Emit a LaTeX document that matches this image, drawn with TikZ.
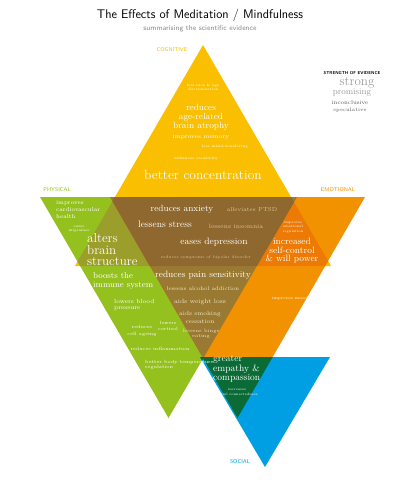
\documentclass[tikz,border=0pt]{standalone}
\usepackage{fontspec}
\newcommand\fsz[2]{\fontsize{#1pt}{#2pt}\selectfont}
\definecolor{cog}{HTML}{F9BF00}
\definecolor{phy}{HTML}{95C11F}
\definecolor{emo}{HTML}{F39200}
\definecolor{soc}{HTML}{009FE3}
\definecolor{cogphy}{HTML}{9C9E2C}
\definecolor{cogemo}{HTML}{EC7A05}
\definecolor{phyemo}{HTML}{9A7A32}
\definecolor{allthree}{HTML}{8E682E}
\definecolor{socemo}{HTML}{0B6B36}
\definecolor{beige}{HTML}{DCC49A}
\definecolor{lbeige}{HTML}{F1E6CC}
\definecolor{subgray}{HTML}{8A8A8A}
\definecolor{leggray}{HTML}{9A9A9A}
\definecolor{legdark}{HTML}{555555}
\begin{document}
\begin{tikzpicture}[x=1pt,y=-1pt,
  lab/.style={inner sep=0, font=\sffamily\fsz{5.5}{6}\addfontfeature{LetterSpace=18}},
  tw/.style={inner sep=0, text=white, align=center},
  tb/.style={inner sep=0, text=beige, align=center},
  tl/.style={inner sep=0, text=lbeige, align=center},
  lg/.style={inner sep=0, text=leggray},
]
\useasboundingbox (0,0) rectangle (400,480);
\fill[white] (0,0) rectangle (400,480);

% triangle corners
\coordinate (C1) at (203,45);  \coordinate (C2) at (75,266);  \coordinate (C3) at (331,266);
\coordinate (P1) at (40,197);  \coordinate (P2) at (297,197); \coordinate (P3) at (168.5,418);
\coordinate (E1) at (110,197); \coordinate (E2) at (365,197); \coordinate (E3) at (237.5,418);
\coordinate (S1) at (200,357); \coordinate (S2) at (330,357); \coordinate (S3) at (265,467);

% base triangles
\fill[cog] (C1) -- (C2) -- (C3) -- cycle;
\fill[phy] (P1) -- (P2) -- (P3) -- cycle;
\fill[emo] (E1) -- (E2) -- (E3) -- cycle;
\fill[soc] (S1) -- (S2) -- (S3) -- cycle;

% overlaps
\begin{scope}
  \clip (C1) -- (C2) -- (C3) -- cycle;
  \clip (P1) -- (P2) -- (P3) -- cycle;
  \fill[cogphy] (0,0) rectangle (400,480);
\end{scope}
\begin{scope}
  \clip (C1) -- (C2) -- (C3) -- cycle;
  \clip (E1) -- (E2) -- (E3) -- cycle;
  \fill[cogemo] (0,0) rectangle (400,480);
\end{scope}
\begin{scope}
  \clip (P1) -- (P2) -- (P3) -- cycle;
  \clip (E1) -- (E2) -- (E3) -- cycle;
  \fill[phyemo] (0,0) rectangle (400,480);
\end{scope}
\begin{scope}
  \clip (C1) -- (C2) -- (C3) -- cycle;
  \clip (P1) -- (P2) -- (P3) -- cycle;
  \clip (E1) -- (E2) -- (E3) -- cycle;
  \fill[allthree] (0,0) rectangle (400,480);
\end{scope}
\begin{scope}
  \clip (S1) -- (S2) -- (S3) -- cycle;
  \clip (E1) -- (E2) -- (E3) -- cycle;
  \fill[socemo] (0,0) rectangle (400,480);
\end{scope}
\begin{scope}
  \clip (S1) -- (S2) -- (S3) -- cycle;
  \clip (P1) -- (P2) -- (P3) -- cycle;
  \fill[socemo] (0,0) rectangle (400,480);
\end{scope}

% title
\node[inner sep=0, font=\sffamily\fsz{12.5}{14}] (title) at (200,15) {The Effects of Meditation / Mindfulness};
\node[inner sep=0, text=subgray, font=\sffamily\fsz{7.3}{8}] (subtitle) at (200,29) {summarising the scientific evidence};

% legend
\node[inner sep=0, font=\sffamily\bfseries\fsz{4.3}{5}] (lg0) at (352,73) {STRENGTH OF EVIDENCE};
\node[lg, font=\fsz{13}{13}] (lg1) at (357,83) {strong};
\node[lg, font=\fsz{8.7}{9}] (lg2) at (352,93) {promising};
\node[lg, text=legdark, font=\fsz{5.7}{6}] (lg3) at (350,103) {inconclusive};
\node[lg, text=legdark, font=\fsz{5}{5}] (lg4) at (350,110) {speculative};

% category labels
\node[lab, text=cog] (lcog) at (172,50) {COGNITIVE};
\node[lab, text=phy] (lphy) at (57,190) {PHYSICAL};
\node[lab, text=emo] (lemo) at (338,190) {EMOTIONAL};
\node[lab, text=soc] (lsoc) at (240,462) {SOCIAL};

% cognitive
\node[tw, font=\fsz{3.6}{4.4}] (c1) at (203,87) {less race \& age\\discrimination};
\node[tw, font=\fsz{9}{9}] (c2) at (201,117) {reduces\\age-related\\brain atrophy};
\node[tw, font=\fsz{6}{6}] (c3) at (201,137) {improves memory};
\node[tw, font=\fsz{3.8}{4}] (c4) at (225,147) {less mind-wandering};
\node[tw, font=\fsz{3.8}{4}] (c5) at (196,159) {enhances creativity};
\node[tw, font=\fsz{13.5}{14}] (c6) at (203,175) {better concentration};

% all three
\node[tw, font=\fsz{9}{9}] (a1) at (182,209) {reduces anxiety};
\node[tb, font=\fsz{5.8}{6}] (a2) at (252,210) {alleviates PTSD};
\node[tw, font=\fsz{9.5}{9}] (a3) at (165,224) {lessens stress};
\node[tb, font=\fsz{6.2}{6}] (a4) at (236,226) {lessens insomnia};
\node[tw, font=\fsz{9.3}{9}] (a5) at (214,242) {eases depression};
\node[tb, font=\fsz{4}{4}] (a6) at (206,257) {reduces symptoms of bipolar disorder};

% cognitive + physical
\node[tw, align=left, anchor=west, font=\fsz{13}{11.5}] (o1) at (87,250) {alters\\brain\\structure};

% cognitive + emotional
\node[tw, font=\fsz{3.4}{4.5}] (e1) at (293,227) {improves\\emotional\\regulation};
\node[tw, font=\fsz{9.2}{8.5}] (e2) at (292,251) {increased\\self-control\\\& will power};
\node[tw, font=\fsz{4}{4}] (e3) at (290,298) {improves mood};

% physical
\node[tw, align=left, anchor=west, font=\fsz{5.8}{7}] (p1) at (56,210) {improves\\cardiovascular\\health};
\node[tw, font=\fsz{3.6}{4.2}] (p2) at (79,229) {eases\\migraines};
\node[tw, align=left, anchor=west, font=\fsz{8.6}{9}] (p3) at (93,281) {boosts the\\immune system};
\node[tw, align=left, anchor=west, font=\fsz{6}{6}] (p4) at (114,305) {lowers blood\\pressure};
\node[tw, font=\fsz{4.6}{6.5}] (p5) at (142,331) {reduces\\cell ageing};
\node[tw, font=\fsz{4.5}{6.5}] (p6) at (168,326) {lowers\\cortisol};
\node[tw, font=\fsz{4.6}{4}] (p7) at (160,349) {reduces inflammation};
\node[tw, align=left, anchor=west, font=\fsz{4.6}{4.8}] (p8) at (145,364.5) {better body temperature\\regulation};

% physical + emotional
\node[tw, font=\fsz{9.1}{9}] (l1) at (203,275) {reduces pain sensitivity};
\node[tl, font=\fsz{5.5}{5}] (l2) at (203,289) {lessens alcohol addiction};
\node[tl, font=\fsz{6.2}{6}] (l3) at (200,302) {aids weight loss};
\node[tl, font=\fsz{6}{8}] (l4) at (200,317) {aids smoking\\cessation};
\node[tl, font=\fsz{4.8}{5}] (l5) at (201,333.5) {lessens binge\\eating};

% social
\node[tw, align=left, anchor=west, font=\fsz{9.5}{8}] (s1) at (213,369) {greater\\empathy \&\\compassion};
\node[tw, font=\fsz{3.4}{4.5}] (s2) at (237,392) {increases\\social connectedness};
\end{tikzpicture}
\end{document}
